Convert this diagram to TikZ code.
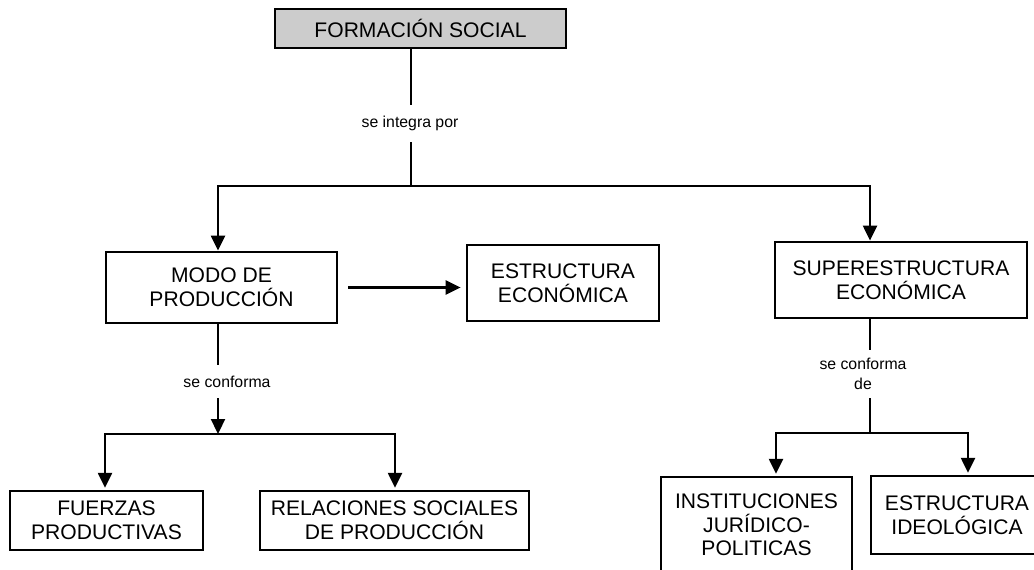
\documentclass[tikz,border=0pt]{standalone}
\usepackage{fontspec}
\setmainfont{Liberation Sans}
\usetikzlibrary{arrows.meta}
\usetikzlibrary{calc}

\begin{document}
\begin{tikzpicture}[x=0.02cm, y=-0.02cm]

		\tikzstyle{box}  = [draw, line width=1.6pt, align=center, inner sep=0pt, font=\fontsize{12}{13.5}\selectfont]
		\tikzstyle{link} = [line width=1.3pt]
		\tikzstyle{arr}  = [link, -{Triangle[width=0.28cm, length=0.3cm]}]
		\tikzstyle{lbl}  = [inner sep=0pt, align=center, font=\fontsize{9}{11}\selectfont]
		\useasboundingbox (0,0) rectangle (1034,570);

		%%Boxes
		\node [box, fill=black!20, minimum width=5.82cm, minimum height=0.78cm](fs) at (420.5, 28.5) {FORMACIÓN SOCIAL};
		\node [box, minimum width=4.62cm, minimum height=1.42cm](modo) at (221.5, 287.5) {MODO DE\\PRODUCCIÓN};
		\node [box, minimum width=3.84cm, minimum height=1.52cm](estr) at (563, 283) {ESTRUCTURA\\ECONÓMICA};
		\node [box, minimum width=5.04cm, minimum height=1.52cm](super) at (901, 280) {SUPERESTRUCTURA\\ECONÓMICA};
		\node [box, minimum width=3.86cm, minimum height=1.18cm](fuerzas) at (106.5, 520.5) {FUERZAS\\PRODUCTIVAS};
		\node [box, minimum width=5.38cm, minimum height=1.18cm](relac) at (394.5, 520.5) {RELACIONES SOCIALES\\DE PRODUCCIÓN};
		\node [box, minimum width=3.82cm, minimum height=1.92cm](inst) at (756.5, 525) {INSTITUCIONES\\JURÍDICO-\\POLITICAS};
		\node [box, minimum width=3.44cm, minimum height=1.56cm](ideo) at (957, 515) {ESTRUCTURA\\IDEOLÓGICA};

		%%Labels on the links
		\node [lbl, minimum height=0.74cm](l1) at (410, 123.5) {se integra por};
		\node [lbl, minimum height=0.66cm](l2) at (227, 381.5) {se conforma};
		\node [lbl, minimum height=0.96cm](l3) at (863, 374) {se conforma\\de};

		%%Branch points
		\coordinate (j1) at (411, 186);
		\coordinate (j2) at (218, 434);
		\coordinate (j3) at (870, 433);

		\draw [link] (fs.south -| j1)--(l1.north -| j1);
		\draw [link] (l1.south -| j1)--(j1);
		\draw [arr] (j1) -| ([xshift=-0.07cm]modo.north);
		\draw [arr] (j1) -| ([xshift=-0.62cm]super.north);

		\draw [arr, shorten <=0.2cm, shorten >=0.1cm] (modo.east)--(modo.east -| estr.west);

		\draw [link] (modo.south -| j2)--(l2.north -| j2);
		\draw [arr] (l2.south -| j2)--(j2);
		\draw [arr, shorten >=1pt] (j2) -| ([xshift=-0.03cm]fuerzas.north);
		\draw [arr, shorten >=1pt] (j2) -| ([xshift=0.01cm]relac.north);

		\draw [link] (super.south -| j3)--(l3.north -| j3);
		\draw [link] (l3.south -| j3)--(j3);
		\draw [arr, shorten >=1pt] (j3) -| ([xshift=0.39cm]inst.north);
		\draw [arr, shorten >=1pt] (j3) -| ([xshift=0.22cm]ideo.north);
	\end{tikzpicture}
\end{document}
